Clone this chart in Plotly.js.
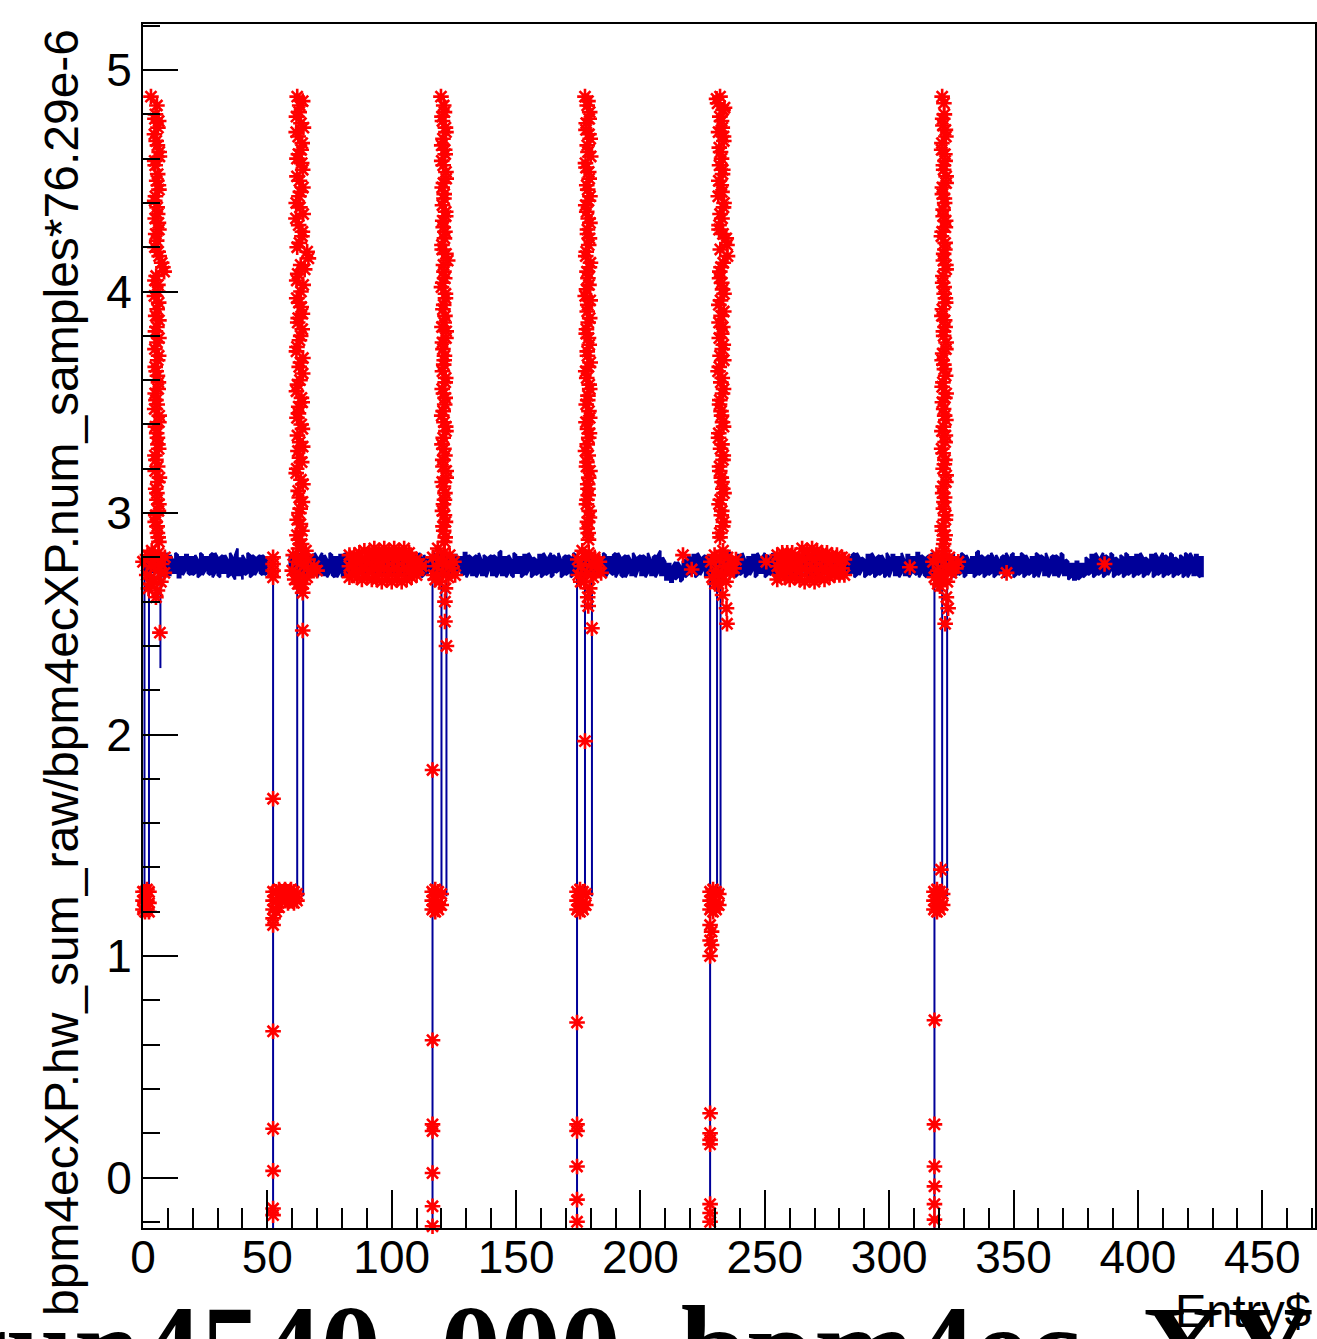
<!DOCTYPE html>
<html><head><meta charset="utf-8">
<script src="https://cdn.plot.ly/plotly-3.0.1.min.js"></script>
<style>html,body{margin:0;padding:0;background:#fff;} #plot{width:1317px;height:1339px;}</style>
</head><body><div id="plot"></div>
<script>
// ---- blue baseline: two samples per Entry$ (0..426); null = no entry drawn ----
const baseY = [
2.80,2.73,2.81,2.72,2.79,2.74,2.81,2.72,2.80,2.73,2.82,2.72,2.79,2.73,2.81,2.71,2.80,2.74,2.81,2.72,
2.80,2.73,2.79,2.72,2.81,2.74,2.80,2.72,2.82,2.73,2.80,2.71,2.81,2.73,2.79,2.72,2.80,2.70,2.84,2.72,
2.70,2.79,2.73,2.81,2.72,2.80,2.74,2.81,2.72,2.80,2.73,2.79,2.74,null,null,null,null,null,null,2.75,
2.80,2.72,2.81,2.73,2.79,2.72,2.80,2.74,2.81,2.72,2.80,2.73,2.82,2.72,2.79,2.73,2.81,2.71,2.80,2.73,
2.81,2.72,2.80,2.74,2.79,2.72,2.81,2.73,2.80,2.72,2.81,2.73,2.79,2.72,2.80,2.74,2.81,2.72,2.80,2.73,
2.79,2.72,2.81,2.73,2.80,2.72,2.82,2.73,2.80,2.71,2.81,2.73,2.80,2.72,2.79,2.74,2.81,2.72,2.80,2.73,
2.81,2.72,2.80,2.73,2.79,2.72,2.81,2.74,2.80,2.72,2.82,2.73,2.80,2.72,2.81,2.73,2.79,2.72,2.80,2.74,
2.81,2.72,2.80,2.73,2.83,2.72,2.80,2.73,2.79,2.71,2.81,2.73,2.80,2.72,2.81,2.74,2.80,2.72,2.79,2.73,
2.81,2.72,2.80,2.73,2.82,2.72,2.80,2.74,2.79,2.72,2.81,2.73,2.80,2.72,2.81,2.73,2.80,2.72,2.79,2.73,
2.81,2.72,2.80,2.74,2.79,2.72,2.81,2.73,2.80,2.72,2.82,2.73,2.80,2.71,2.81,2.73,2.79,2.72,2.80,2.74,
2.81,2.72,2.80,2.73,2.79,2.72,2.81,2.73,2.83,2.72,2.78,2.70,2.77,2.69,2.78,2.71,2.76,2.70,2.79,2.72,
2.80,2.73,2.81,2.72,2.80,2.74,2.81,2.72,2.80,2.73,2.79,2.72,2.81,2.73,2.80,2.72,2.82,2.73,2.80,2.72,
2.81,2.73,2.79,2.72,2.80,2.74,2.81,2.72,2.80,2.73,2.82,2.72,2.80,2.73,2.79,2.71,2.81,2.73,2.80,2.72,
2.81,2.73,2.80,2.72,2.79,2.74,2.81,2.72,2.80,2.73,2.81,2.72,2.79,2.73,2.80,2.72,2.81,2.74,2.80,2.72,
2.79,2.73,2.81,2.72,2.80,2.73,2.82,2.72,2.80,2.74,2.79,2.72,2.81,2.73,2.80,2.72,2.81,2.73,2.79,2.72,
2.80,2.74,2.81,2.72,2.80,2.73,2.79,2.72,2.81,2.73,2.80,2.72,2.82,2.73,2.80,2.71,2.81,2.73,2.80,2.72,
2.81,2.73,2.79,2.72,2.80,2.74,2.81,2.72,2.80,2.73,2.81,2.72,2.79,2.73,2.80,2.72,2.83,2.73,2.80,2.72,
2.81,2.73,2.80,2.72,2.79,2.74,2.81,2.72,2.80,2.73,2.82,2.72,2.80,2.73,2.81,2.72,2.79,2.73,2.80,2.72,
2.81,2.74,2.80,2.72,2.79,2.73,2.81,2.72,2.80,2.73,2.81,2.72,2.78,2.71,2.77,2.70,2.78,2.71,2.77,2.72,
2.79,2.73,2.81,2.72,2.80,2.73,2.82,2.72,2.80,2.74,2.81,2.72,2.79,2.73,2.80,2.72,2.81,2.73,2.80,2.72,
2.81,2.73,2.80,2.72,2.79,2.74,2.81,2.72,2.80,2.73,2.82,2.72,2.80,2.73,2.81,2.72,2.79,2.73,2.80,2.72,
2.81,2.73,2.80,2.72,2.81,2.71,2.80];
const baseY2 = [
2.72,2.81,2.71,2.80,2.73,2.82,2.72,2.81,2.71,2.80,2.72,2.81,2.73,2.82,2.71,2.80,2.72,2.81,2.73,2.80,
2.72,2.81,2.71,2.82,2.72,2.80,2.73,2.81,2.71,2.82,2.72,2.80,2.73,2.81,2.71,2.82,2.72,2.81,2.72,2.80,
2.81,2.72,2.82,2.71,2.81,2.72,2.80,2.73,2.81,2.72,2.80,2.71,2.81,null,null,null,null,null,null,2.80,
2.72,2.81,2.71,2.82,2.72,2.80,2.71,2.81,2.73,2.82,2.71,2.80,2.72,2.81,2.71,2.82,2.72,2.80,2.71,2.81,
2.71,2.82,2.72,2.80,2.71,2.81,2.72,2.82,2.71,2.80,2.72,2.81,2.73,2.82,2.71,2.80,2.72,2.81,2.71,2.82,
2.72,2.81,2.71,2.80,2.72,2.82,2.71,2.81,2.73,2.80,2.72,2.82,2.71,2.81,2.72,2.80,2.71,2.82,2.72,2.81,
2.71,2.80,2.72,2.82,2.71,2.81,2.72,2.80,2.73,2.82,2.71,2.81,2.72,2.80,2.71,2.82,2.72,2.81,2.71,2.80,
2.72,2.81,2.71,2.82,2.72,2.80,2.71,2.81,2.72,2.82,2.73,2.80,2.71,2.81,2.72,2.82,2.71,2.80,2.72,2.81,
2.71,2.82,2.72,2.80,2.71,2.81,2.73,2.82,2.71,2.80,2.72,2.81,2.71,2.82,2.72,2.80,2.71,2.81,2.73,2.82,
2.72,2.80,2.71,2.81,2.72,2.82,2.71,2.80,2.73,2.81,2.71,2.82,2.72,2.80,2.71,2.81,2.72,2.82,2.71,2.80,
2.72,2.81,2.71,2.82,2.72,2.80,2.71,2.81,2.72,2.80,2.70,2.77,2.69,2.76,2.70,2.78,2.69,2.78,2.71,2.81,
2.72,2.81,2.71,2.82,2.72,2.80,2.71,2.81,2.72,2.82,2.71,2.80,2.72,2.81,2.71,2.82,2.72,2.80,2.71,2.81,
2.72,2.82,2.71,2.80,2.72,2.81,2.71,2.82,2.73,2.80,2.71,2.81,2.72,2.82,2.71,2.80,2.72,2.81,2.71,2.82,
2.71,2.81,2.72,2.82,2.71,2.80,2.72,2.81,2.71,2.82,2.72,2.80,2.71,2.81,2.73,2.82,2.71,2.80,2.72,2.81,
2.72,2.82,2.71,2.80,2.72,2.81,2.71,2.82,2.72,2.80,2.71,2.81,2.72,2.82,2.71,2.80,2.72,2.81,2.71,2.82,
2.71,2.81,2.72,2.80,2.71,2.82,2.72,2.81,2.71,2.80,2.73,2.82,2.71,2.81,2.72,2.80,2.71,2.82,2.72,2.81,
2.72,2.80,2.71,2.82,2.72,2.81,2.71,2.80,2.72,2.82,2.71,2.81,2.73,2.80,2.71,2.82,2.72,2.81,2.71,2.80,
2.72,2.82,2.71,2.81,2.72,2.80,2.71,2.82,2.72,2.81,2.71,2.80,2.72,2.82,2.71,2.81,2.72,2.80,2.71,2.82,
2.71,2.81,2.72,2.82,2.71,2.80,2.72,2.81,2.71,2.82,2.72,2.79,2.70,2.77,2.70,2.78,2.70,2.77,2.71,2.80,
2.72,2.81,2.71,2.82,2.72,2.80,2.71,2.81,2.72,2.82,2.71,2.80,2.72,2.81,2.71,2.82,2.72,2.80,2.71,2.81,
2.72,2.82,2.71,2.80,2.72,2.81,2.71,2.82,2.72,2.80,2.71,2.81,2.72,2.82,2.71,2.80,2.72,2.81,2.71,2.82,
2.71,2.82,2.72,2.81,2.72,2.80,2.71];
// line path through both samples of each entry, in order
const baseLineX = [], baseLineY = [];
baseY.forEach((v, i) => {
  baseLineX.push(i, i);
  baseLineY.push(v, baseY2[i]);
});

// ---- blue line segments during the beam trips (Entry$, value), null = break ----
const tripX = [0.6,0.6,null,2.4,2.4,null,7.0,7.0,null,
  52.3,52.3,null,62.0,62.0,null,64.4,64.4,null,
  116.4,116.4,null,120.0,120.0,null,122.0,122.0,null,
  174.5,174.5,null,177.7,177.7,null,180.5,180.5,null,
  228.0,228.0,null,230.8,230.8,null,232.2,232.2,null,
  318.2,318.2,null,321.3,321.3,null,323.3,323.3];
const tripY = [1.27,2.74,null,1.27,2.74,null,2.72,2.30,null,
  2.76,-0.6,null,1.27,2.72,null,1.27,2.72,null,
  2.74,-0.6,null,1.27,2.72,null,1.27,2.72,null,
  2.74,-0.6,null,1.27,2.72,null,1.27,2.72,null,
  2.74,-0.6,null,1.27,2.72,null,1.27,2.72,null,
  2.74,-0.6,null,1.27,2.72,null,1.27,2.72];

// ---- red selected points: spike columns ----
const colX1 = [3.2,5.0,6.3,4.6,5.8,6.6,4.9,5.5,6.4,4.7,5.9,6.2,5.1,4.8,6.5,8.0,5.3,6.0,4.6,5.7,6.4,5.0,5.6,6.3,4.9,5.8,6.1,5.2,4.7,6.4,5.5,6.0,4.8,5.9,6.6,5.1,5.6,6.2,4.9,5.8,6.4,
  5.6,4.8,6.0,5.3,6.5,4.7,5.9,6.2,5.0,5.7,4.9,6.4,5.5,6.1,7.5,8.5,4.8,5.9,6.3,5.1,5.6,6.4,4.8,5.9,5.3,6.2,4.9,5.7,6.5,5.0,5.8,6.3,5.2,4.9,6.0,5.6,6.4,5.1,5.7,6.1];
const colY1 = [4.88,4.80,4.77,4.71,4.66,4.61,4.57,4.50,4.46,4.41,4.35,4.31,4.26,4.20,4.16,4.11,4.07,4.03,3.98,3.92,3.87,3.82,3.77,3.71,3.66,3.62,3.56,3.51,3.47,3.41,3.36,3.31,3.26,3.21,3.16,3.11,3.06,3.01,2.96,2.91,2.87,
  4.84,4.78,4.74,4.68,4.63,4.59,4.53,4.48,4.43,4.38,4.33,4.28,4.23,4.18,4.13,4.09,4.05,4.00,3.95,3.89,3.84,3.79,3.74,3.69,3.64,3.59,3.54,3.49,3.44,3.39,3.34,3.29,3.24,3.19,3.14,3.09,3.04,2.99,2.94,2.89];
const colX2 = [62.0,64.2,62.8,63.5,61.6,64.0,62.5,63.8,61.9,64.3,62.7,63.1,61.5,64.1,62.9,66.0,63.4,62.2,64.4,61.8,63.6,62.4,64.0,62.9,61.7,63.3,64.2,62.1,63.7,62.6,61.9,64.1,63.0,62.3,63.8,61.6,64.3,62.8,63.2,62.0,63.9,62.5,
  63.0,61.7,64.5,62.4,63.6,61.9,64.2,62.9,63.3,61.6,64.4,62.6,63.9,62.0,66.5,65.0,61.8,63.5,62.7,64.1,62.2,63.4,61.9,64.3,62.8,63.1,61.7,64.0,62.5,63.6,62.1,64.2,62.9,61.8,63.5,62.4,64.1,62.7,63.3,61.9,63.8];
const colY2 = [4.88,4.86,4.81,4.76,4.72,4.67,4.62,4.58,4.52,4.47,4.43,4.38,4.33,4.27,4.22,4.18,4.12,4.08,4.03,3.97,3.93,3.88,3.83,3.78,3.73,3.68,3.63,3.58,3.52,3.48,3.43,3.38,3.32,3.28,3.23,3.18,3.13,3.07,3.02,2.97,2.92,2.88,
  4.84,4.79,4.74,4.70,4.64,4.60,4.55,4.50,4.45,4.40,4.35,4.30,4.25,4.20,4.15,4.10,4.05,4.00,3.95,3.90,3.86,3.80,3.75,3.70,3.66,3.60,3.55,3.50,3.45,3.40,3.35,3.30,3.25,3.20,3.15,3.10,3.05,3.00,2.95,2.90,2.86];
const colX3 = [119.8,121.2,120.4,121.8,120.1,121.5,120.7,121.9,120.3,121.0,121.7,120.5,121.4,120.2,121.8,120.8,121.3,120.0,121.6,120.6,121.1,121.9,120.4,121.2,120.9,121.7,120.3,121.5,120.7,121.0,121.8,120.2,121.4,120.6,121.9,120.8,121.2,120.4,121.6,120.9,121.3,
  120.9,120.2,121.6,120.6,121.3,120.1,121.8,120.8,121.1,120.4,121.7,120.7,121.2,120.3,122.5,121.0,120.5,121.6,120.9,121.4,120.2,121.8,120.6,121.1,120.4,121.5,120.8,121.3,120.1,121.7,120.7,121.0,120.5,121.9,120.3,121.4,120.8,121.2,120.6,121.5];
const colY3 = [4.88,4.81,4.77,4.72,4.66,4.62,4.57,4.51,4.47,4.42,4.36,4.32,4.27,4.21,4.17,4.12,4.06,4.02,3.97,3.92,3.86,3.82,3.77,3.71,3.67,3.61,3.56,3.52,3.46,3.41,3.37,3.31,3.26,3.21,3.16,3.12,3.06,3.01,2.96,2.92,2.87,
  4.84,4.79,4.74,4.69,4.64,4.59,4.54,4.49,4.44,4.39,4.34,4.29,4.24,4.19,4.14,4.09,4.04,3.99,3.94,3.89,3.84,3.79,3.74,3.69,3.64,3.59,3.54,3.49,3.44,3.39,3.34,3.29,3.24,3.19,3.14,3.09,3.04,2.99,2.94,2.89];
const colX4 = [177.7,178.6,179.4,178.1,179.8,178.9,177.9,179.2,178.4,179.7,178.0,179.0,178.7,179.5,178.2,179.9,178.5,179.3,177.8,178.8,179.6,178.3,179.1,178.6,179.8,178.0,179.4,178.9,178.2,179.6,178.7,179.2,177.9,178.5,179.7,178.8,179.0,178.3,179.5,178.6,179.1,
  178.9,179.6,178.2,179.3,178.6,180.0,178.1,179.4,178.8,179.1,178.4,179.7,178.7,179.2,178.0,179.5,178.9,178.3,179.8,178.6,179.0,178.2,179.4,178.7,179.1,178.4,179.6,178.8,179.3,178.1,179.5,178.6,179.0,178.3,179.2,178.9,178.5,179.4,178.7,179.0];
const colY4 = [4.88,4.84,4.78,4.73,4.69,4.63,4.58,4.54,4.48,4.43,4.39,4.33,4.28,4.24,4.18,4.13,4.09,4.03,3.98,3.94,3.88,3.83,3.79,3.73,3.68,3.64,3.58,3.53,3.49,3.43,3.38,3.34,3.28,3.23,3.19,3.13,3.08,3.04,2.98,2.93,2.88,
  4.86,4.81,4.76,4.71,4.66,4.61,4.56,4.51,4.46,4.41,4.36,4.31,4.26,4.21,4.16,4.11,4.06,4.01,3.96,3.91,3.86,3.81,3.76,3.71,3.66,3.61,3.56,3.51,3.46,3.41,3.36,3.31,3.26,3.21,3.16,3.11,3.06,3.01,2.96,2.91];
const colX5 = [232.0,231.0,233.2,232.6,231.4,233.5,232.2,231.8,233.0,232.5,231.3,233.4,232.8,231.6,234.5,232.1,233.3,231.9,232.7,233.6,231.5,232.4,233.1,231.7,232.9,233.5,231.2,232.3,233.0,231.8,232.6,233.4,231.4,232.2,233.2,231.9,232.8,233.6,231.6,232.5,233.1,232.0,
  230.6,233.8,231.9,232.9,233.4,231.7,232.6,233.1,231.5,232.8,233.6,232.0,231.6,233.2,234.8,235.0,232.4,231.8,233.0,232.2,233.5,231.6,232.7,233.3,232.0,231.7,232.9,233.4,231.9,232.4,233.0,231.5,232.8,233.3,231.8,232.5,233.1,232.1,232.7,233.4,231.9];
const colY5 = [4.88,4.85,4.82,4.77,4.72,4.68,4.63,4.57,4.53,4.48,4.43,4.38,4.33,4.28,4.24,4.19,4.13,4.09,4.04,3.99,3.94,3.89,3.84,3.79,3.74,3.69,3.64,3.59,3.54,3.49,3.44,3.39,3.34,3.29,3.24,3.19,3.14,3.09,3.04,2.99,2.94,2.89,
  4.87,4.83,4.79,4.74,4.70,4.65,4.60,4.55,4.50,4.45,4.40,4.35,4.30,4.26,4.21,4.16,4.11,4.06,4.01,3.96,3.91,3.86,3.81,3.76,3.71,3.66,3.61,3.56,3.51,3.46,3.41,3.36,3.31,3.26,3.21,3.16,3.11,3.06,3.01,2.96,2.91];
const colX6 = [321.3,322.2,321.6,322.8,321.1,322.5,321.9,322.9,321.4,322.3,321.7,322.6,321.0,322.4,321.8,322.9,321.5,322.1,322.7,321.2,322.5,321.9,322.8,321.3,322.2,321.6,322.9,321.4,322.3,321.8,322.6,321.1,322.4,321.7,322.8,321.5,322.0,322.7,321.3,322.5,321.9,
  322.0,321.5,322.6,321.2,322.4,321.8,322.9,321.4,322.2,321.7,322.7,321.3,322.5,321.9,322.8,321.6,322.1,322.6,321.4,322.3,321.8,322.9,321.5,322.0,322.7,321.3,322.4,321.9,322.8,321.2,322.5,321.7,322.2,322.9,321.6,322.3,321.8,322.6,321.4,322.1];
const colY6 = [4.88,4.80,4.75,4.70,4.64,4.59,4.55,4.49,4.44,4.40,4.34,4.29,4.25,4.19,4.14,4.10,4.04,3.99,3.95,3.89,3.84,3.80,3.74,3.69,3.65,3.59,3.54,3.50,3.44,3.39,3.35,3.29,3.24,3.20,3.14,3.09,3.05,2.99,2.94,2.90,2.86,
  4.85,4.78,4.73,4.67,4.62,4.57,4.52,4.47,4.42,4.37,4.32,4.27,4.22,4.17,4.12,4.07,4.02,3.97,3.92,3.87,3.82,3.77,3.72,3.67,3.62,3.57,3.52,3.47,3.42,3.37,3.32,3.27,3.22,3.17,3.12,3.07,3.02,2.97,2.92,2.88];

// ---- red: clusters at the foot of each spike (Entry$, value) ----
const footPts = [
 [0.0,2.78],[1.5,2.72],[1.8,2.81],[3.0,2.68],[3.2,2.76],[3.5,2.83],[4.6,2.70],[4.8,2.79],[5.8,2.65],[6.0,2.74],[6.2,2.82],[7.2,2.69],[7.5,2.77],[8.6,2.73],[8.8,2.80],[5.2,2.62],[6.8,2.46],[2.2,2.66],
 [52.3,2.80],[52.3,2.77],[52.3,2.74],[52.3,2.71],
 [60.0,2.74],[60.4,2.81],[61.0,2.70],[61.8,2.78],[62.5,2.84],[63.0,2.72],[63.6,2.80],[64.4,2.68],[64.8,2.76],[65.5,2.83],[66.0,2.71],[66.4,2.79],[67.5,2.74],[68.8,2.76],[70.0,2.74],[64.2,2.64],[64.2,2.47],[63.5,2.66],[62.2,2.68],
 [116.5,2.80],[116.8,2.72],[118.0,2.76],[118.5,2.84],[119.2,2.69],[119.6,2.79],[120.5,2.73],[121.0,2.82],[121.6,2.66],[122.0,2.77],[122.8,2.71],[123.3,2.81],[124.2,2.75],[125.0,2.78],[125.5,2.72],[121.4,2.60],[121.4,2.51],[122.0,2.40],[117.5,2.70],
 [174.8,2.79],[175.0,2.72],[176.2,2.76],[176.6,2.83],[177.4,2.69],[178.0,2.80],[178.6,2.73],[179.2,2.82],[179.6,2.66],[180.3,2.77],[181.0,2.71],[181.6,2.80],[182.5,2.75],[183.5,2.78],[184.2,2.73],[178.8,2.62],[180.5,2.48],[179.0,2.58],[176.0,2.69],
 [228.3,2.78],[228.8,2.71],[229.8,2.81],[230.4,2.74],[231.2,2.68],[231.8,2.79],[232.6,2.72],[233.2,2.83],[233.8,2.76],[234.4,2.69],[235.0,2.80],[235.8,2.73],[236.6,2.77],[237.6,2.75],[238.4,2.79],[233.0,2.63],[234.6,2.57],[234.8,2.50],[230.0,2.68],
 [317.6,2.78],[318.2,2.71],[319.0,2.81],[319.6,2.74],[320.4,2.67],[321.0,2.79],[321.6,2.72],[322.2,2.83],[322.8,2.76],[323.4,2.69],[324.2,2.80],[325.0,2.73],[325.8,2.77],[326.8,2.75],[327.8,2.78],[323.0,2.62],[323.7,2.57],[322.5,2.50],[319.5,2.68]
];

// ---- red: runs of selected entries on the baseline, and isolated ones ----
const runPts = [
 [83,2.71],[83,2.76],[83,2.81],
 [84,2.72],[84,2.79],[85,2.75],[85,2.81],[86,2.71],[86,2.78],[87,2.74],[87,2.82],[88,2.70],[88,2.79],[89,2.75],[89,2.83],[90,2.71],[90,2.78],[91,2.74],[91,2.82],[92,2.70],[92,2.80],[93,2.75],[93,2.84],
 [94,2.70],[94,2.78],[95,2.74],[95,2.83],[96,2.69],[96,2.80],[97,2.75],[97,2.84],[98,2.70],[98,2.79],[99,2.74],[99,2.83],[100,2.69],[100,2.80],[101,2.75],[101,2.84],[102,2.70],[102,2.79],[103,2.74],[103,2.83],
 [104,2.69],[104,2.80],[105,2.75],[105,2.84],[106,2.70],[106,2.79],[107,2.74],[107,2.82],[108,2.71],[108,2.80],[109,2.75],[109,2.78],[110,2.72],[110,2.79],[111,2.75],[111,2.77],[112,2.76],
 [255,2.70],[255,2.76],[255,2.81],
 [256,2.72],[256,2.79],[257,2.75],[257,2.82],[258,2.71],[258,2.78],[259,2.74],[259,2.82],[260,2.70],[260,2.79],[261,2.75],[261,2.82],[262,2.71],[262,2.77],[263,2.74],[263,2.78],[264,2.70],[264,2.80],[265,2.75],[265,2.84],
 [266,2.69],[266,2.79],[267,2.74],[267,2.83],[268,2.70],[268,2.80],[269,2.75],[269,2.84],[270,2.69],[270,2.79],[271,2.74],[271,2.83],[272,2.71],[272,2.80],[273,2.75],[273,2.82],[274,2.70],[274,2.79],[275,2.74],[275,2.82],
 [276,2.71],[276,2.78],[277,2.75],[277,2.81],[278,2.72],[278,2.79],[279,2.74],[279,2.81],[280,2.72],[280,2.78],[281,2.75],[281,2.80],[282,2.72],[282,2.79],
 [217.1,2.81],[220.6,2.745],[250.6,2.78],[308.3,2.755],[347.2,2.73],[386.6,2.77]
];

// ---- red: the ~1.25 plateaus ----
const plateauPts = [
 [0.0,1.29],[0.0,1.25],[0.0,1.21],[0.8,1.29],[0.8,1.24],[0.8,1.20],[1.6,1.30],[1.6,1.25],[1.6,1.21],[2.4,1.29],[2.4,1.24],[2.4,1.20],
 [52.3,1.29],[52.3,1.25],[52.3,1.21],[52.3,1.17],[52.3,1.14],[53.5,1.29],[53.5,1.25],[53.5,1.20],[54.7,1.30],[54.7,1.26],[54.7,1.22],
 [55.9,1.29],[55.9,1.25],[57.1,1.30],[57.1,1.26],[58.3,1.29],[58.3,1.24],[59.5,1.30],[59.5,1.25],[60.7,1.29],[60.7,1.24],[61.9,1.28],[61.9,1.25],
 [116.3,1.29],[116.3,1.25],[116.3,1.21],[117.5,1.30],[117.5,1.25],[117.5,1.20],[118.7,1.29],[118.7,1.24],[118.7,1.21],[119.9,1.28],[119.9,1.23],
 [174.5,1.29],[174.5,1.25],[174.5,1.21],[175.7,1.30],[175.7,1.25],[175.7,1.20],[176.9,1.29],[176.9,1.24],[176.9,1.21],[178.0,1.28],[178.0,1.23],
 [228.0,1.29],[228.0,1.25],[228.0,1.21],[229.2,1.30],[229.2,1.25],[229.2,1.20],[230.4,1.29],[230.4,1.24],[230.4,1.21],[231.5,1.28],[231.5,1.23],
 [228.0,1.14],[228.6,1.11],[228.0,1.07],[228.6,1.05],[228.0,1.00],
 [318.0,1.29],[318.0,1.25],[318.0,1.21],[319.2,1.30],[319.2,1.25],[319.2,1.20],[320.4,1.29],[320.4,1.24],[320.4,1.21],[321.5,1.28],[321.5,1.23],[320.8,1.39]
];

// ---- red: points along each drop ----
const dropPts = [
 [52.3,1.71],[52.3,0.66],[52.3,0.22],[52.3,0.03],[52.3,-0.14],[52.3,-0.17],[52.3,-0.23],
 [116.4,1.84],[116.4,0.62],[116.4,0.24],[116.4,0.21],[116.4,0.02],[116.4,-0.13],[116.4,-0.22],
 [177.7,1.97],[174.5,0.70],[174.5,0.24],[174.5,0.21],[174.5,0.05],[174.5,-0.10],[174.5,-0.20],[174.5,-0.23],
 [228.0,0.29],[228.0,0.20],[228.0,0.17],[228.0,0.15],[228.0,-0.12],[228.0,-0.16],[228.0,-0.20],[228.0,-0.23],
 [318.2,0.71],[318.2,0.24],[318.2,0.05],[318.2,-0.04],[318.2,-0.12],[318.2,-0.19]
];

const pts = [].concat(footPts, runPts, plateauPts, dropPts);
const redX = [].concat(colX1,colX2,colX3,colX4,colX5,colX6, pts.map(p=>p[0]));
const redY = [].concat(colY1,colY2,colY3,colY4,colY5,colY6, pts.map(p=>p[1]));

const BLUE = 'rgb(0,0,153)';
const RED = 'rgb(255,0,0)';

const traces = [
  {x: baseLineX, y: baseLineY, type: 'scatter', mode: 'lines', line: {color: BLUE, width: 2.5}, connectgaps: false, hoverinfo: 'skip'},
  {x: tripX, y: tripY, type: 'scatter', mode: 'lines', line: {color: BLUE, width: 2}, connectgaps: false, hoverinfo: 'skip'},
  {x: redX, y: redY, type: 'scatter', mode: 'markers', cliponaxis: false,
   marker: {symbol: 'asterisk-open', size: 13, color: RED, line: {color: RED, width: 2.6}}, hoverinfo: 'skip'}
];

const tickFont = {family: 'Liberation Sans, Arial, sans-serif', size: 46, color: '#000'};
const layout = {
  width: 1317, height: 1339,
  margin: {l: 143, r: 2, t: 24, b: 111, pad: 0},
  paper_bgcolor: '#fff', plot_bgcolor: '#fff',
  showlegend: false,
  xaxis: {
    range: [0, 471.2], tick0: 0, dtick: 50, ticks: 'inside', ticklen: 38, tickwidth: 2, tickcolor: '#000',
    showline: true, linewidth: 2, linecolor: '#000', mirror: true, showgrid: false, zeroline: false,
    tickfont: tickFont, ticklabelstandoff: -12,
    minor: {dtick: 10, ticks: 'inside', ticklen: 20, tickwidth: 2, tickcolor: '#000', showgrid: false}
  },
  yaxis: {
    range: [-0.228, 5.208], tick0: 0, dtick: 1, ticks: 'inside', ticklen: 35, tickwidth: 2, tickcolor: '#000',
    showline: true, linewidth: 2, linecolor: '#000', mirror: true, showgrid: false, zeroline: false,
    tickfont: tickFont, ticklabelstandoff: 0,
    minor: {dtick: 0.2, ticks: 'inside', ticklen: 17, tickwidth: 2, tickcolor: '#000', showgrid: false}
  },
  annotations: [
    {text: 'bpm4ecXP.hw_sum_raw/bpm4ecXP.num_samples*76.29e-6', xref: 'paper', yref: 'paper',
     x: 0, y: 0.461, xshift: -81, xanchor: 'center', yanchor: 'middle', textangle: -90, showarrow: false,
     font: {family: 'Liberation Sans, Arial, sans-serif', size: 48, color: '#000'}},
    {text: '<b>run4540_000_bpm4ec_XY</b>', xref: 'paper', yref: 'paper',
     x: -0.163, y: -0.100, xanchor: 'left', yanchor: 'middle', showarrow: false,
     font: {family: 'Liberation Serif, Times New Roman, serif', size: 120, color: '#000'}},
    {text: 'Entry$', xref: 'paper', yref: 'paper',
     x: 0.9983, y: -0.0689, xanchor: 'right', yanchor: 'middle', showarrow: false,
     font: {family: 'Liberation Sans, Arial, sans-serif', size: 47, color: '#000'}}
  ]
};

Plotly.newPlot('plot', traces, layout, {staticPlot: true, displayModeBar: false});
</script>
</body></html>
